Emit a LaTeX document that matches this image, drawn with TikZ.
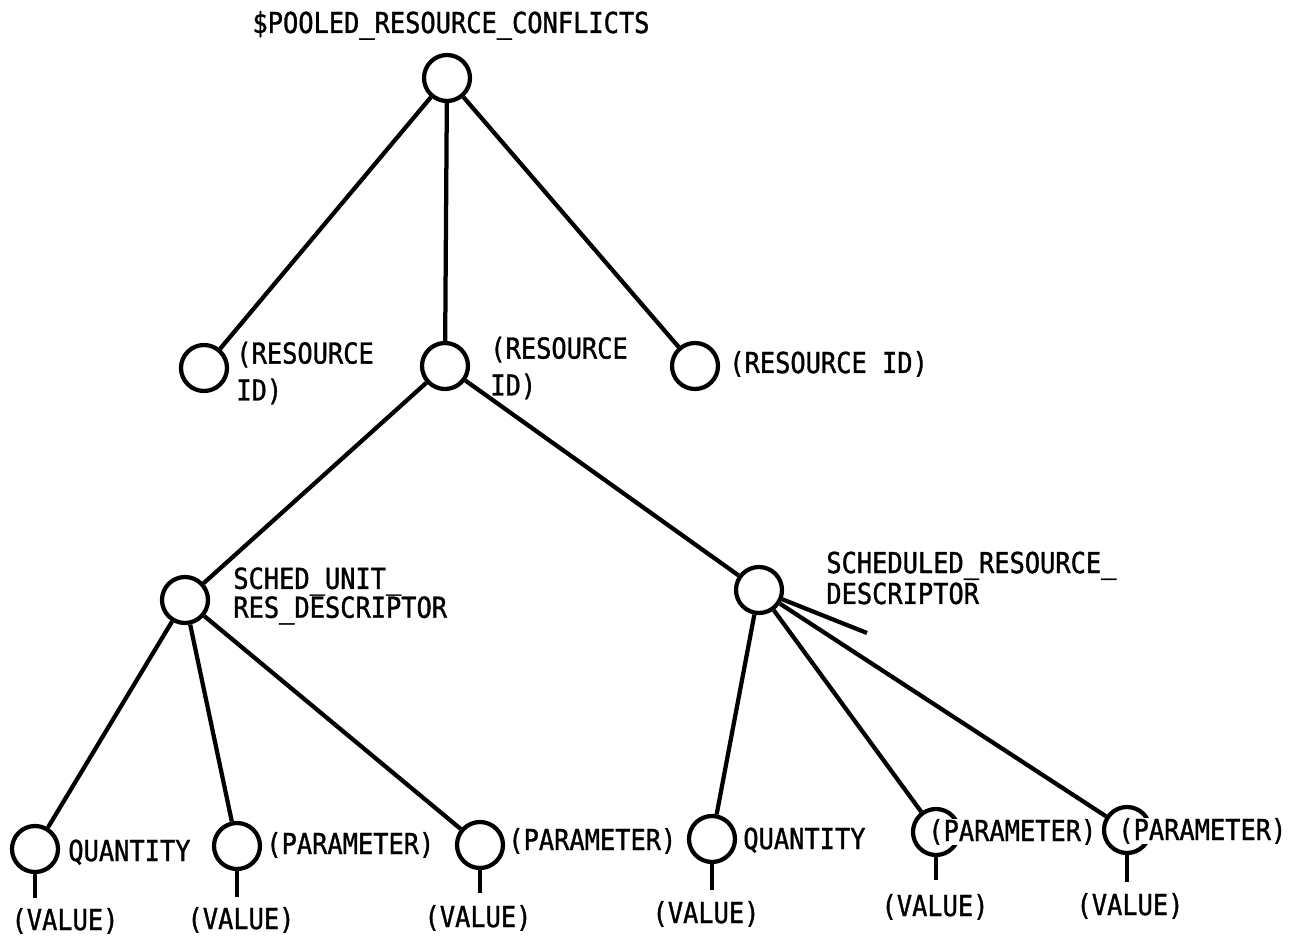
\documentclass[tikz,border=0pt]{standalone}
\usepackage{fontspec}
\newfontfamily\treefont[FakeStretch=0.88,FakeBold=1.2]{DejaVu Sans Mono}
\tikzset{
  elem/.style={circle,draw,line width=0.85mm,minimum size=9.2mm,inner sep=0pt},
  link/.style={line width=0.85mm},
  nodetext/.style={font=\treefont\fontsize{16.4}{21}\selectfont,
                   inner sep=0pt,align=left}
}

\begin{document}
\begin{tikzpicture}[x=0.2mm,y=-0.2mm]
        \useasboundingbox (0,0) rectangle (1300,941);
        % root and resource ids
        \node[elem] (root) at (447,78) {};
        \node[nodetext,anchor=base] (rootlbl) at (451,33)
          {\$POOLED\_RESOURCE\_CONFLICTS};
        \node[elem] (resa) at (204,368) {};
        \node[elem] (resb) at (445,366) {};
        \node[elem] (resc) at (695,366) {};
        \node[nodetext,anchor=west] (resalbl) at (236,373) {(RESOURCE\\ID)};
        \node[nodetext,anchor=west] (resblbl) at (490,368) {(RESOURCE\\ID)};
        \node[nodetext,anchor=base west] (resclbl) at (729,373) {(RESOURCE ID)};
        % descriptors
        \node[elem] (unit) at (185,600) {};
        \node[elem] (sched) at (759,590) {};
        \node[nodetext,anchor=west] (unitlbl) at (233,596)
          {SCHED\_UNIT\_\\[-1.6mm]RES\_DESCRIPTOR};
        \node[nodetext,anchor=west] (schedlbl) at (826,578)
          {SCHEDULED\_RESOURCE\_\\[-1.2mm]DESCRIPTOR};
        \coordinate (spur) at (867,633);
        % leaves
        \node[elem] (qtya) at (35,849) {};
        \node[elem] (parb) at (237,846) {};
        \node[elem] (parc) at (480,845) {};
        \node[elem] (qtyd) at (712,839) {};
        \node[elem] (pare) at (936,832) {};
        \node[elem] (parf) at (1127,830) {};
        \node[nodetext,anchor=base west] (qtyalbl) at (68,861) {QUANTITY};
        \node[nodetext,anchor=base west] (parblbl) at (266,854) {(PARAMETER)};
        \node[nodetext,anchor=base west] (parclbl) at (508,850) {(PARAMETER)};
        \node[nodetext,anchor=base west] (qtydlbl) at (743,849) {QUANTITY};
        \node[nodetext,anchor=base west,fill=white] (parelbl) at (928,841)
          {(PARAMETER)};
        \node[nodetext,anchor=base west,fill=white] (parflbl) at (1118,840)
          {(PARAMETER)};
        \coordinate (stuba) at (35,898);
        \coordinate (stubb) at (237,897);
        \coordinate (stubc) at (480,893);
        \coordinate (stubd) at (712,890);
        \coordinate (stube) at (936,880);
        \coordinate (stubf) at (1127,882);
        \node[nodetext,anchor=base] (vala) at (65,930) {(VALUE)};
        \node[nodetext,anchor=base] (valb) at (241,929) {(VALUE)};
        \node[nodetext,anchor=base] (valc) at (478,927) {(VALUE)};
        \node[nodetext,anchor=base] (vald) at (706,923) {(VALUE)};
        \node[nodetext,anchor=base] (vale) at (935,916) {(VALUE)};
        \node[nodetext,anchor=base] (valf) at (1130,915) {(VALUE)};
        % connectors
        \draw[link] (root) -- (resa);
        \draw[link] (root) -- (resb);
        \draw[link] (root) -- (resc);
        \draw[link] (resb) -- (unit);
        \draw[link] (resb) -- (sched);
        \draw[link] (unit) -- (qtya);
        \draw[link] (unit) -- (parb);
        \draw[link] (unit) -- (parc);
        \draw[link] (sched) -- (qtyd);
        \draw[link] (sched) -- (pare);
        \draw[link] (sched) -- (parf);
        \draw[link] (sched) -- (spur);
        \draw[link] (qtya) -- (stuba);
        \draw[link] (parb) -- (stubb);
        \draw[link] (parc) -- (stubc);
        \draw[link] (qtyd) -- (stubd);
        \draw[link] (pare) -- (stube);
        \draw[link] (parf) -- (stubf);
      \end{tikzpicture}
\end{document}
